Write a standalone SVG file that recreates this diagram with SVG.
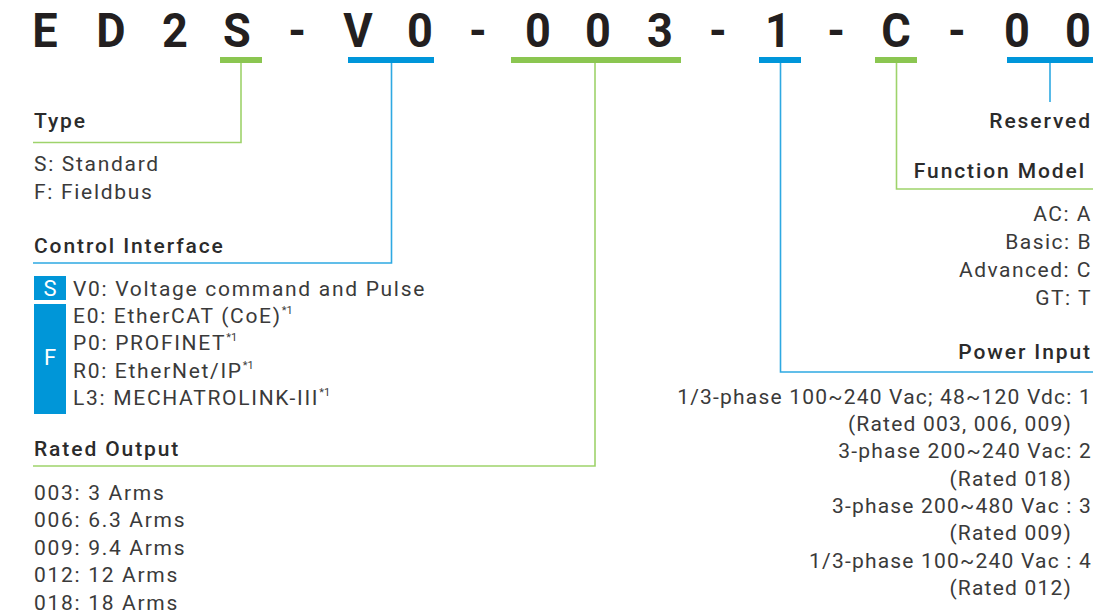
<svg xmlns="http://www.w3.org/2000/svg" width="1119" height="614" viewBox="0 0 1119 614">
  <style>
    .code { font-family: Roboto, "Liberation Sans", sans-serif; font-weight: 700; font-size: 48px; fill: #231f20; text-anchor: middle; }
    .hd { font-family: Roboto, "Liberation Sans", sans-serif; font-weight: 500; font-size: 21px; fill: #2b2b2b; letter-spacing: 1.9px; }
    .tx { font-family: Roboto, "Liberation Sans", sans-serif; font-weight: 400; font-size: 21px; fill: #3a3a3a; letter-spacing: 1.7px; }
    .tx.r { letter-spacing: 1.5px; }
    #power-input .tx { letter-spacing: 1.2px; }
    .r { text-anchor: end; }
    .sup { font-size: 11px; letter-spacing: 0; }
    .badge { fill: #0096d8; }
    .badge-t { font-family: Roboto, "Liberation Sans", sans-serif; font-weight: 400; font-size: 22px; fill: #ffffff; text-anchor: middle; }
    .bar-g { fill: #8bc651; }
    .bar-b { fill: #0096da; }
    .ln-g { fill: none; stroke: #9ed36b; stroke-width: 1.6; }
    .ln-b { fill: none; stroke: #2ea9e2; stroke-width: 1.6; }
  </style>

  <!-- model code, one glyph per cell -->
  <g id="model-code">
    <g transform="scale(0.94 1)">
      <text class="code" x="47.9" y="47">E</text>
      <text class="code" x="118.1" y="47">D</text>
      <text class="code" x="186.2" y="47">2</text>
      <text class="code" x="252.1" y="47">S</text>
      <text class="code" x="316" y="47">-</text>
      <text class="code" x="380.9" y="47">V</text>
      <text class="code" x="446.8" y="47">0</text>
      <text class="code" x="508.5" y="47">-</text>
      <text class="code" x="572.3" y="47">0</text>
      <text class="code" x="636.2" y="47">0</text>
      <text class="code" x="702.1" y="47">3</text>
      <text class="code" x="763.8" y="47">-</text>
      <text class="code" x="827.7" y="47">1</text>
      <text class="code" x="889.4" y="47">-</text>
      <text class="code" x="953.2" y="47">C</text>
      <text class="code" x="1018.1" y="47">-</text>
      <text class="code" x="1081.9" y="47">0</text>
      <text class="code" x="1146.8" y="47">0</text>
    </g>
    <!-- segment bars -->
    <rect class="bar-g" x="220" y="57" width="42" height="6"/>
    <rect class="bar-b" x="348" y="57" width="86" height="6"/>
    <rect class="bar-g" x="511" y="57" width="170" height="6"/>
    <rect class="bar-b" x="759" y="57" width="42" height="6"/>
    <rect class="bar-g" x="875" y="57" width="42" height="6"/>
    <rect class="bar-b" x="1007" y="57" width="86" height="6"/>
  </g>

  <!-- leader lines -->
  <g id="connectors">
    <path class="ln-g" d="M241 63 V142.5 H33"/>
    <path class="ln-b" d="M391.5 63 V263 H33"/>
    <path class="ln-g" d="M595 63 V466 H33"/>
    <path class="ln-b" d="M780.5 63 V372 H1093"/>
    <path class="ln-g" d="M896.5 63 V189 H1093"/>
    <path class="ln-b" d="M1050 63 V102"/>
  </g>

  <g id="type">
    <text class="hd" x="34" y="128">Type</text>
    <text class="tx" x="34" y="171">S: Standard</text>
    <text class="tx" x="34" y="199">F: Fieldbus</text>
  </g>

  <g id="control-interface">
    <text class="hd" x="34" y="253">Control Interface</text>
    <rect class="badge" x="34" y="276" width="32" height="24"/>
    <text class="badge-t" x="50" y="296">S</text>
    <rect class="badge" x="34" y="304" width="32" height="110"/>
    <text class="badge-t" x="50" y="365">F</text>
    <text class="tx" x="73" y="296">V0: Voltage command and Pulse</text>
    <text class="tx" x="73" y="323">E0: EtherCAT (CoE)<tspan class="sup" dy="-9">*1</tspan></text>
    <text class="tx" x="73" y="350">P0: PROFINET<tspan class="sup" dy="-9">*1</tspan></text>
    <text class="tx" x="73" y="378">R0: EtherNet/IP<tspan class="sup" dy="-9">*1</tspan></text>
    <text class="tx" x="73" y="405">L3: MECHATROLINK-III<tspan class="sup" dy="-9">*1</tspan></text>
  </g>

  <g id="rated-output">
    <text class="hd" x="34" y="456">Rated Output</text>
    <text class="tx" x="34" y="500">003: 3 Arms</text>
    <text class="tx" x="34" y="527">006: 6.3 Arms</text>
    <text class="tx" x="34" y="555">009: 9.4 Arms</text>
    <text class="tx" x="34" y="582">012: 12 Arms</text>
    <text class="tx" x="34" y="610">018: 18 Arms</text>
  </g>

  <g id="reserved">
    <text class="hd r" x="1092" y="128">Reserved</text>
  </g>

  <g id="function-model">
    <text class="hd r" x="1086" y="178">Function Model</text>
    <text class="tx r" x="1092" y="221">AC: A</text>
    <text class="tx r" x="1092" y="249">Basic: B</text>
    <text class="tx r" x="1092" y="277">Advanced: C</text>
    <text class="tx r" x="1092" y="305">GT: T</text>
  </g>

  <g id="power-input">
    <text class="hd r" x="1092" y="359">Power Input</text>
    <text class="tx r" x="1092" y="404">1/3-phase 100~240 Vac; 48~120 Vdc: 1</text>
    <text class="tx r" x="1072" y="431">(Rated 003, 006, 009)</text>
    <text class="tx r" x="1092" y="458">3-phase 200~240 Vac: 2</text>
    <text class="tx r" x="1072" y="486">(Rated 018)</text>
    <text class="tx r" x="1092" y="513">3-phase 200~480 Vac : 3</text>
    <text class="tx r" x="1072" y="540">(Rated 009)</text>
    <text class="tx r" x="1092" y="568">1/3-phase 100~240 Vac : 4</text>
    <text class="tx r" x="1072" y="595">(Rated 012)</text>
  </g>
</svg>
